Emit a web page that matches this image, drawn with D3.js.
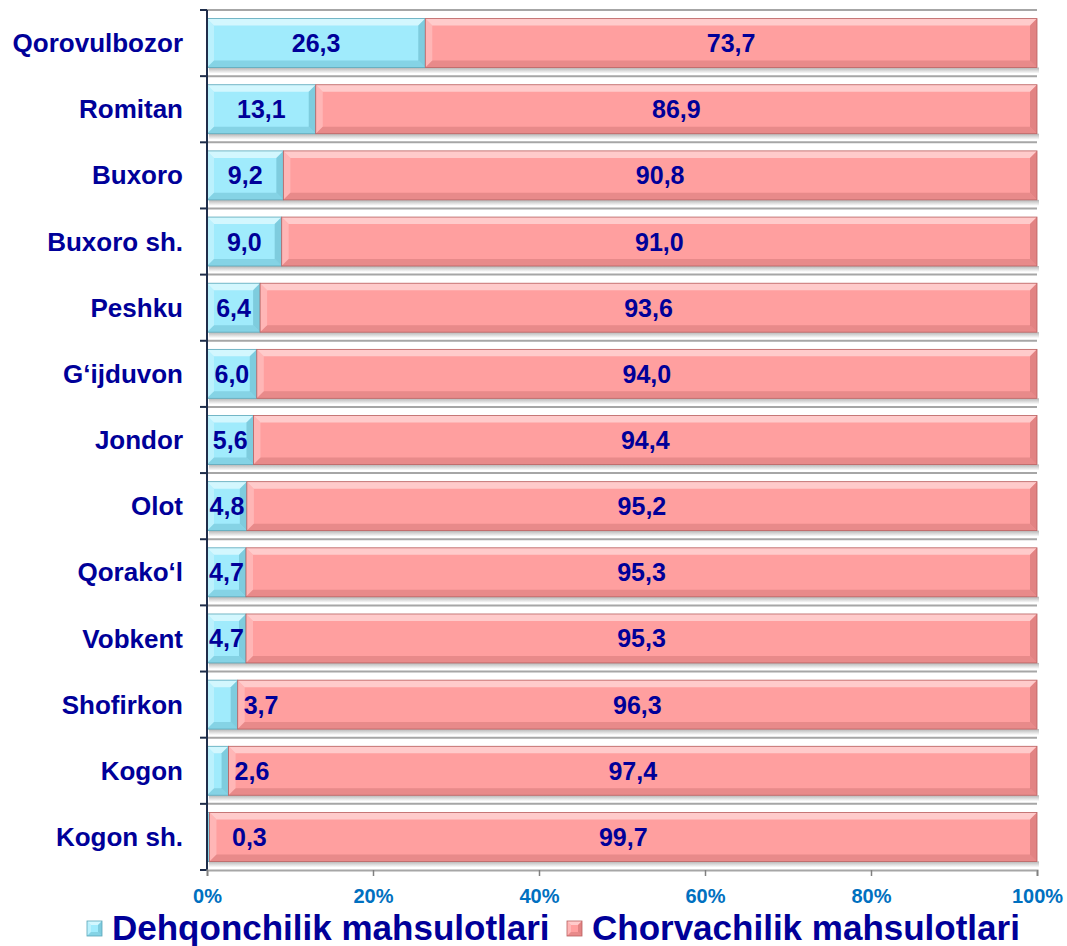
<!DOCTYPE html>
<html>
<head>
<meta charset="utf-8">
<script src="https://cdn.jsdelivr.net/npm/d3@7"></script>
<style>
  body { margin: 0; background: #fff; }
  svg text { font-family: Arial, "Liberation Sans", sans-serif; font-weight: bold; }
</style>
</head>
<body>
<script>
var categories = ["Qorovulbozor", "Romitan", "Buxoro", "Buxoro sh.", "Peshku", "G‘ijduvon",
    "Jondor", "Olot", "Qorako‘l", "Vobkent", "Shofirkon", "Kogon", "Kogon sh."];
var dehqon = [26.3, 13.1, 9.2, 9.0, 6.4, 6.0, 5.6, 4.8, 4.7, 4.7, 3.7, 2.6, 0.3];
var chorva = [73.7, 86.9, 90.8, 91.0, 93.6, 94.0, 94.4, 95.2, 95.3, 95.3, 96.3, 97.4, 99.7];
var seriesNames = ["Dehqonchilik mahsulotlari", "Chorvachilik mahsulotlari"];
var xTicks = [0, 0.2, 0.4, 0.6, 0.8, 1];

var svgWidth = 1067;
var svgHeight = 946;
var navy = "#000099";
var colors = [
    {fill: "#a0ebfc", light: "#e4fbff", dark: "#6fbfd2", edge: "#5aa6b8"},
    {fill: "#ff9f9f", light: "#ffd9d9", dark: "#d67878", edge: "#b86060"}
];

var svg = d3.select("body").append("svg")
    .attr("width", svgWidth)
    .attr("height", svgHeight);

var xScale = d3.scaleLinear()
    .domain([0, 1])
    .range([207, 1037]);
var yScale = d3.scaleBand()
    .domain(categories)
    .range([10, 870])
    .paddingInner(0.26)
    .paddingOuter(0.13);

var step = yScale.step();
var top0 = yScale.range()[0];

// gridlines at category boundaries
svg.append("g").selectAll("line")
    .data(d3.range(categories.length))
    .join("line")
    .attr("x1", xScale(0))
    .attr("x2", xScale(1))
    .attr("y1", function(i) { return top0 + i * step; })
    .attr("y2", function(i) { return top0 + i * step; })
    .attr("stroke", "#a6a6a6")
    .attr("stroke-width", 2);

// shadow defs
var defs = svg.append("defs");
var sh = defs.append("linearGradient").attr("id", "shadow")
    .attr("x1", 0).attr("y1", 0).attr("x2", 0).attr("y2", 1);
sh.append("stop").attr("offset", "0%").attr("stop-color", "#b5b5b5");
sh.append("stop").attr("offset", "100%").attr("stop-color", "#ffffff");

// bevelled rectangle
function bevelRect(g, x, y, w, h, c, b) {
    b = Math.min(b, w / 2, h / 2);
    g.append("rect").attr("x", x).attr("y", y).attr("width", w).attr("height", h)
        .attr("fill", c.fill);
    // top
    g.append("polygon")
        .attr("points", [[x, y], [x + w, y], [x + w - b, y + b], [x + b, y + b]].join(" "))
        .attr("fill", c.light).attr("opacity", 0.75);
    // left
    g.append("polygon")
        .attr("points", [[x, y], [x + b, y + b], [x + b, y + h - b], [x, y + h]].join(" "))
        .attr("fill", c.light).attr("opacity", 0.4);
    // bottom
    g.append("polygon")
        .attr("points", [[x, y + h], [x + b, y + h - b], [x + w - b, y + h - b], [x + w, y + h]].join(" "))
        .attr("fill", c.dark).attr("opacity", 0.55);
    // right
    g.append("polygon")
        .attr("points", [[x + w, y], [x + w - b, y + b], [x + w - b, y + h - b], [x + w, y + h]].join(" "))
        .attr("fill", c.dark).attr("opacity", 0.7);
    g.append("rect").attr("x", x).attr("y", y).attr("width", w).attr("height", h)
        .attr("fill", "none").attr("stroke", c.edge).attr("stroke-width", 0.8);
}

var fmt = function(v) { return d3.format(".1f")(v).replace(".", ","); };

var rows = svg.append("g").selectAll("g")
    .data(categories)
    .join("g");

rows.each(function(cat, i) {
    var g = d3.select(this);
    var y = yScale(cat);
    var h = yScale.bandwidth();
    var a = dehqon[i] / 100;
    var x0 = xScale(0), x1 = xScale(a), x2 = xScale(1);
    // shadow
    g.append("rect").attr("x", x0 + 2).attr("y", y + h).attr("width", x2 - x0)
        .attr("height", 6).attr("fill", "url(#shadow)");
    bevelRect(g, x0, y, x1 - x0, h, colors[0], 7);
    bevelRect(g, x1, y, x2 - x1, h, colors[1], 7);

    // labels
    var cy = y + h / 2 + 9;
    var w1 = x1 - x0;
    var lab1 = g.append("text").attr("y", cy).attr("fill", navy)
        .attr("font-size", 25).text(fmt(dehqon[i]));
    if (w1 >= 38) {
        lab1.attr("x", (x0 + x1) / 2).attr("text-anchor", "middle");
    } else {
        lab1.attr("x", Math.max(x1 + 6, x0 + 25)).attr("text-anchor", "start");
    }
    g.append("text").attr("y", cy).attr("fill", navy)
        .attr("font-size", 25).attr("text-anchor", "middle")
        .attr("x", (x1 + x2) / 2).text(fmt(chorva[i]));
});

// y axis
var yAxis = d3.axisLeft(yScale).tickSize(0).tickPadding(24);
var yg = svg.append("g")
    .attr("transform", "translate(" + xScale(0) + ",0)")
    .call(yAxis);
yg.select(".domain").remove();
yg.selectAll("text")
    .attr("font-size", 26)
    .attr("fill", navy)
    .attr("font-family", "Arial, 'Liberation Sans', sans-serif")
    .attr("dy", "0.35em");
svg.append("line")
    .attr("x1", xScale(0)).attr("x2", xScale(0))
    .attr("y1", top0).attr("y2", top0 + categories.length * step)
    .attr("stroke", "#1f2d4a").attr("stroke-width", 2);
svg.append("g").selectAll("line")
    .data(d3.range(categories.length + 1))
    .join("line")
    .attr("x1", xScale(0) - 7).attr("x2", xScale(0))
    .attr("y1", function(i) { return top0 + i * step; })
    .attr("y2", function(i) { return top0 + i * step; })
    .attr("stroke", "#1f2d4a").attr("stroke-width", 2);

// x axis
var xAxis = d3.axisBottom(xScale)
    .tickValues(xTicks)
    .tickFormat(d3.format(".0%"))
    .tickSize(6)
    .tickPadding(13);
var xg = svg.append("g")
    .attr("transform", "translate(0," + (top0 + categories.length * step) + ")")
    .call(xAxis);
xg.select(".domain").attr("stroke", "#a6a6a6").attr("stroke-width", 2);
xg.selectAll(".tick line").attr("stroke", "#808080").attr("stroke-width", 1.5);
xg.selectAll("text")
    .attr("font-size", 20)
    .attr("fill", "#0070c0")
    .attr("font-family", "Arial, 'Liberation Sans', sans-serif");

// legend
var legendX = [87, 567];
var legend = svg.append("g").selectAll("g")
    .data(seriesNames)
    .join("g")
    .attr("transform", function(d, i) { return "translate(" + legendX[i] + ",921)"; });
legend.each(function(d, i) {
    var g = d3.select(this);
    bevelRect(g, 0, 0, 15, 15, colors[i], 4);
    g.append("text").attr("x", 25).attr("y", 19)
        .attr("font-size", 35).attr("fill", navy).text(d);
});
</script>
</body>
</html>
